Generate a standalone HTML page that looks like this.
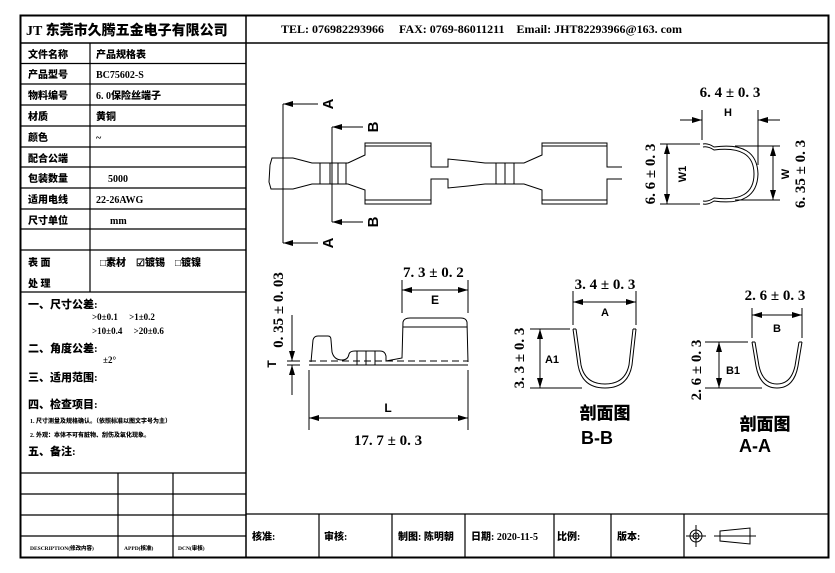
<!DOCTYPE html>
<html><head><meta charset="utf-8"><style>
body{margin:0;background:#fff}
svg{display:block}
text{font-family:"Liberation Serif","Noto Sans CJK SC","Noto Serif CJK SC",serif;font-weight:900;fill:#000}
.s{font-family:"Liberation Sans","Noto Sans CJK SC",sans-serif}
.c{font-family:"Liberation Sans","Noto Sans CJK SC",sans-serif;font-weight:bold}
</style></head><body>
<svg width="835" height="573" viewBox="0 0 835 573" xmlns="http://www.w3.org/2000/svg">
<defs>
<marker id="ar" viewBox="0 0 10 6" refX="10" refY="3" markerWidth="10" markerHeight="6" orient="auto-start-reverse" markerUnits="userSpaceOnUse"><path d="M0,0L10,3L0,6Z" fill="#000"/></marker>
</defs>
<g stroke="#000" fill="none">
<rect x="20.5" y="15.5" width="808" height="542" stroke-width="2"/>
<line x1="246" y1="15" x2="246" y2="557" stroke-width="1.5"/>
<line x1="20" y1="43" x2="828" y2="43" stroke-width="1.5"/>
<g stroke-width="1.2">
<line x1="20" y1="63.5" x2="246" y2="63.5"/><line x1="20" y1="84" x2="246" y2="84"/>
<line x1="20" y1="105" x2="246" y2="105"/><line x1="20" y1="126" x2="246" y2="126"/>
<line x1="20" y1="147" x2="246" y2="147"/><line x1="20" y1="167" x2="246" y2="167"/>
<line x1="20" y1="188" x2="246" y2="188"/><line x1="20" y1="209" x2="246" y2="209"/>
<line x1="20" y1="229" x2="246" y2="229"/><line x1="20" y1="250" x2="246" y2="250"/>
<line x1="20" y1="292" x2="246" y2="292"/>
<line x1="90" y1="43" x2="90" y2="292"/>
<line x1="20" y1="473" x2="246" y2="473"/><line x1="20" y1="494" x2="246" y2="494"/>
<line x1="20" y1="515" x2="246" y2="515"/><line x1="20" y1="536" x2="246" y2="536"/>
<line x1="118" y1="473" x2="118" y2="557"/><line x1="173" y1="473" x2="173" y2="557"/>
<line x1="246" y1="514" x2="828" y2="514"/>
<line x1="319" y1="514" x2="319" y2="557"/><line x1="392" y1="514" x2="392" y2="557"/>
<line x1="465" y1="514" x2="465" y2="557"/><line x1="554" y1="514" x2="554" y2="557"/>
<line x1="611" y1="514" x2="611" y2="557"/><line x1="684" y1="514" x2="684" y2="557"/>
</g>
</g>
<text x="26" y="35" font-size="14">JT 东莞市久腾五金电子有限公司</text>
<text x="281" y="33" font-size="12">TEL: 076982293966　 FAX: 0769-86011211　Email: JHT82293966@163. com</text>
<g font-size="10">
<text x="28" y="58">文件名称</text><text x="96" y="58">产品规格表</text>
<text x="28" y="78">产品型号</text><text x="96" y="78">BC75602-S</text>
<text x="28" y="99">物料编号</text><text x="96" y="99">6. 0保险丝端子</text>
<text x="28" y="120">材质</text><text x="96" y="120">黄铜</text>
<text x="28" y="141">颜色</text><text x="96" y="141">~</text>
<text x="28" y="162">配合公端</text>
<text x="28" y="182">包装数量</text><text x="108" y="182">5000</text>
<text x="28" y="203">适用电线</text><text x="96" y="203">22-26AWG</text>
<text x="28" y="224">尺寸单位</text><text x="110" y="224">mm</text>
<text x="28" y="266">表 面</text><text x="28" y="287">处 理</text>
<text x="100" y="266">□素材　☑镀锡　□镀镍</text>
<text x="28" y="308" font-size="11">一、尺寸公差:</text>
<text x="92" y="320" font-size="9">&gt;0±0.1　 &gt;1±0.2</text>
<text x="92" y="334" font-size="9">&gt;10±0.4　 &gt;20±0.6</text>
<text x="28" y="352" font-size="11">二、角度公差:</text>
<text x="103" y="363" font-size="9">±2°</text>
<text x="28" y="381" font-size="11">三、适用范围:</text>
<text x="28" y="408" font-size="11">四、检查项目:</text>
<text x="30" y="423" font-size="6">1. 尺寸测量及规格确认。（依照标准以图文字号为主）</text>
<text x="30" y="437" font-size="6">2. 外观：本体不可有脏物、刮伤及氧化现象。</text>
<text x="28" y="455" font-size="11">五、备注:</text>
<text x="30" y="550" font-size="5.5">DESCRIPTION(修改内容)</text>
<text x="124" y="550" font-size="5.5">APPD(核准)</text>
<text x="178" y="550" font-size="5.5">DCN(审核)</text>
</g>
<g font-size="10">
<text x="252" y="540">核准:</text><text x="324" y="540">审核:</text>
<text x="398" y="540">制图: 陈明朝</text><text x="471" y="540">日期: 2020-11-5</text>
<text x="557" y="540">比例:</text><text x="617" y="540">版本:</text>
</g>
<g stroke="#000" fill="none" stroke-width="1">
<circle cx="696" cy="536" r="6"/><circle cx="696" cy="536" r="3"/>
<line x1="686" y1="536" x2="706" y2="536"/><line x1="696" y1="525" x2="696" y2="547"/>
<path d="M720,531L750,528L750,544L720,541Z"/>
<line x1="714" y1="536" x2="756" y2="536"/>
</g>
<g stroke="#000" fill="none" stroke-width="1">
<path d="M283,104V243M283,104H318M283,243H318"/>
<path d="M332,127V222M332,127H363M332,222H363"/>
<line x1="300" y1="104" x2="283" y2="104" marker-end="url(#ar)"/>
<line x1="300" y1="243" x2="283" y2="243" marker-end="url(#ar)"/>
<line x1="350" y1="127" x2="332" y2="127" marker-end="url(#ar)"/>
<line x1="350" y1="222" x2="332" y2="222" marker-end="url(#ar)"/>
<path d="M293,158H272L270,165L269,182L271,189H293L312,184H348L365,190V204H431V179H448V188L468,186L485,184H524L542,190V204H607V179H622"/>
<path d="M293,158L312,163H348L365,155V143H431V167H448V159L468,161L485,163H524L542,155V143H607V167H622"/>
<path d="M365,146H431M365,200H431M542,146H607M542,200H607"/>
<path d="M320,163V184M330,163V184M338,163V184M346,163V184"/>
<path d="M496,163V184M505,163V184M514,163V184"/>
</g>
<text class="c" font-size="15" transform="translate(333,104) rotate(-90)" text-anchor="middle">A</text>
<text class="c" font-size="15" transform="translate(333,243) rotate(-90)" text-anchor="middle">A</text>
<text class="c" font-size="15" transform="translate(378,127) rotate(-90)" text-anchor="middle">B</text>
<text class="c" font-size="15" transform="translate(378,222) rotate(-90)" text-anchor="middle">B</text>
<g stroke="#000" fill="none" stroke-width="1">
<path d="M703,144Q708,143 714,147Q757,141 758,174Q757,207 714,201Q708,205 703,204"/>
<path d="M703,147Q708,146 714,150Q754,145 754,174Q754,203 714,198Q708,202 703,201"/>
<line x1="702" y1="110" x2="702" y2="140"/><line x1="758" y1="110" x2="758" y2="165"/>
<line x1="680" y1="120" x2="702" y2="120" marker-end="url(#ar)"/>
<line x1="780" y1="120" x2="758" y2="120" marker-end="url(#ar)"/>
<line x1="660" y1="144" x2="700" y2="144"/><line x1="660" y1="204" x2="700" y2="204"/>
<line x1="667" y1="144" x2="667" y2="204" marker-start="url(#ar)" marker-end="url(#ar)"/>
<line x1="735" y1="146" x2="780" y2="146"/><line x1="735" y1="200" x2="780" y2="200"/>
<line x1="773" y1="146" x2="773" y2="200" marker-start="url(#ar)" marker-end="url(#ar)"/>
</g>
<text x="730" y="97" font-size="15" text-anchor="middle">6. 4 ± 0. 3</text>
<text class="c" x="728" y="116" font-size="11" text-anchor="middle">H</text>
<text class="c" font-size="11" transform="translate(686,174) rotate(-90)" text-anchor="middle">W1</text>
<text font-size="15" transform="translate(655,174) rotate(-90)" text-anchor="middle">6. 6 ± 0. 3</text>
<text class="c" font-size="11" transform="translate(789,174) rotate(-90)" text-anchor="middle">W</text>
<text font-size="15" transform="translate(805,174) rotate(-90)" text-anchor="middle">6. 35 ± 0. 3</text>
<g stroke="#000" fill="none" stroke-width="1">
<line x1="309" y1="365" x2="468" y2="365"/>
<line x1="309" y1="361" x2="468" y2="361" stroke-dasharray="7,4"/>
<path d="M311,362L313,340Q314,336 318,336H328Q331,336 331,340L332,352Q334,360 342,360Q348,360 349,354Q350,351 355,351H380Q385,351 386,356L386,361L402,358L403,322Q404,318 410,318H461Q466,318 467,322L468,362"/>
<line x1="403" y1="327" x2="467" y2="327"/>
<path d="M357,351V365M366,351V365M375,351V365"/>
<line x1="402" y1="280" x2="402" y2="313"/><line x1="468" y1="280" x2="468" y2="313"/>
<line x1="402" y1="290" x2="468" y2="290" marker-start="url(#ar)" marker-end="url(#ar)"/>
<line x1="309" y1="370" x2="309" y2="430"/><line x1="468" y1="370" x2="468" y2="430"/>
<line x1="309" y1="418" x2="468" y2="418" marker-start="url(#ar)" marker-end="url(#ar)"/>
<line x1="287" y1="361" x2="300" y2="361"/><line x1="287" y1="365" x2="300" y2="365"/>
<line x1="292" y1="315" x2="292" y2="361" marker-end="url(#ar)"/>
<line x1="292" y1="395" x2="292" y2="365" marker-end="url(#ar)"/>
</g>
<text x="403" y="277" font-size="15">7. 3 ± 0. 2</text>
<text class="c" x="435" y="304" font-size="12" text-anchor="middle">E</text>
<text class="c" x="388" y="412" font-size="12" text-anchor="middle">L</text>
<text x="388" y="445" font-size="15" text-anchor="middle">17. 7 ± 0. 3</text>
<text class="c" font-size="12" transform="translate(276,364) rotate(-90)" text-anchor="middle">T</text>
<text font-size="15" transform="translate(283,310) rotate(-90)" text-anchor="middle">0. 35 ± 0. 03</text>
<g stroke="#000" fill="none" stroke-width="1">
<path d="M573,329L578,365Q582,388 605,388Q628,388 632,365L636,329"/>
<path d="M576,329L581,365Q585,384 605,384Q625,384 629,365L633,329"/>
<path d="M573,329H576M633,329H636"/>
<line x1="573" y1="291" x2="573" y2="325"/><line x1="636" y1="291" x2="636" y2="325"/>
<line x1="573" y1="302" x2="636" y2="302" marker-start="url(#ar)" marker-end="url(#ar)"/>
<line x1="530" y1="329" x2="570" y2="329"/><line x1="530" y1="388" x2="582" y2="388"/>
<line x1="540" y1="329" x2="540" y2="388" marker-start="url(#ar)" marker-end="url(#ar)"/>
</g>
<text x="605" y="289" font-size="15" text-anchor="middle">3. 4 ± 0. 3</text>
<text class="c" x="605" y="316" font-size="11" text-anchor="middle">A</text>
<text class="c" x="552" y="363" font-size="11" text-anchor="middle">A1</text>
<text font-size="15" transform="translate(524,358) rotate(-90)" text-anchor="middle">3. 3 ± 0. 3</text>
<text x="605" y="419" font-size="17" text-anchor="middle">剖面图</text>
<text class="c" x="597" y="444" font-size="18" text-anchor="middle">B-B</text>
<g stroke="#000" fill="none" stroke-width="1">
<path d="M752,342L756,366Q760,388 777,388Q794,388 798,366L802,342"/>
<path d="M755,342L759,366Q763,384 777,384Q791,384 795,366L799,342"/>
<path d="M752,342H755M799,342H802"/>
<line x1="752" y1="308" x2="752" y2="338"/><line x1="802" y1="308" x2="802" y2="338"/>
<line x1="752" y1="315" x2="802" y2="315" marker-start="url(#ar)" marker-end="url(#ar)"/>
<line x1="705" y1="342" x2="748" y2="342"/><line x1="705" y1="388" x2="762" y2="388"/>
<line x1="719" y1="342" x2="719" y2="388" marker-start="url(#ar)" marker-end="url(#ar)"/>
</g>
<text x="775" y="300" font-size="15" text-anchor="middle">2. 6 ± 0. 3</text>
<text class="c" x="777" y="332" font-size="11" text-anchor="middle">B</text>
<text class="c" x="733" y="374" font-size="11" text-anchor="middle">B1</text>
<text font-size="15" transform="translate(701,370) rotate(-90)" text-anchor="middle">2. 6 ± 0. 3</text>
<text x="765" y="430" font-size="17" text-anchor="middle">剖面图</text>
<text class="c" x="755" y="452" font-size="18" text-anchor="middle">A-A</text>
</svg>
</body></html>
